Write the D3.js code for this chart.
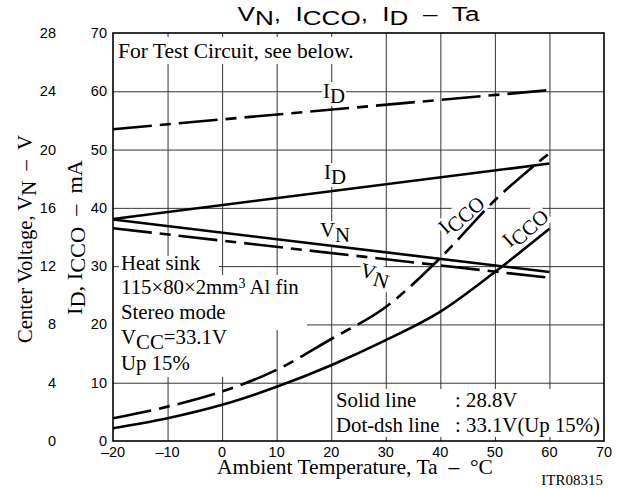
<!DOCTYPE html>
<html><head><meta charset="utf-8">
<script src="https://cdn.jsdelivr.net/npm/d3@7"></script>
<style>
html,body{margin:0;padding:0;background:#fff;}
svg{display:block;}
.sans{font-family:"Liberation Sans",Arial,Helvetica,sans-serif;}
.serif{font-family:"Liberation Serif","Times New Roman",serif;}
text{white-space:pre;}
</style></head>
<body>
<svg id="chart" width="620" height="488"></svg>
<script>
// ---- data ----
const xTicks = [-20,-10,0,10,20,30,40,50,60,70];
const iTicks = [0,10,20,30,40,50,60,70];
const vTicks = [0,4,8,12,16,20,24,28];
const lineTemps = [-20, 60];
const idSolid = [38.1, 47.6];
const idDash = [53.5, 60.2];
const vnSolid = [15.2, 11.6];
const vnDash = [14.6, 11.2];
const curveTemps = [-20,-10,0,10,20,30,40,50,60];
const iccoSolid = [2.2, 3.9, 6.2, 9.3, 13.0, 17.3, 22.2, 29.0, 36.4];
const iccoDash = [3.9, 5.9, 8.5, 12.2, 17.5, 23.0, 31.4, 41.3, 49.4];

// ---- scales ----
const L = 113, R = 604, T = 33, B = 441;
const x = d3.scaleLinear().domain([-20,70]).range([L,R]);
const yI = d3.scaleLinear().domain([0,70]).range([B,T]);
const yV = d3.scaleLinear().domain([0,28]).range([B,T]);

const svg = d3.select("#chart");
const DASH = "39,8,11,8";
const SF = 20.8; // serif font size
const SP = "\u00a0\u00a0";

function rich(sel, parts, subSize, drop){
  let prevSub = false;
  parts.forEach(([t, sub]) => {
    const ts = sel.append("tspan").text(t);
    if (sub && !prevSub) ts.attr("dy", drop).attr("font-size", subSize);
    else if (!sub && prevSub) ts.attr("dy", -drop);
    else if (sub) ts.attr("font-size", subSize);
    prevSub = sub;
  });
  return sel;
}
function fit(sel, base, target){
  const w = sel.node().getBBox().width;
  sel.attr("transform", base + ` scale(${target / w},1)`);
}

// ---- grid ----
const grid = svg.append("g").attr("stroke","#333").attr("stroke-width",1);
grid.selectAll("line.v").data(xTicks.filter(d => d > -20 && d < 70)).join("line")
  .attr("x1", d => x(d)+0.5).attr("x2", d => x(d)+0.5).attr("y1", T).attr("y2", B);
grid.selectAll("line.h").data(iTicks.filter(d => d > 0 && d < 70)).join("line")
  .attr("x1", L).attr("x2", R).attr("y1", d => yI(d)+0.5).attr("y2", d => yI(d)+0.5);

// ---- white masks behind text blocks ----
const masks = svg.append("g").attr("fill","#fff");
masks.append("rect").attr("x", L+2).attr("y", 37).attr("width", 240).attr("height", 27);
masks.append("rect").attr("x", L+6).attr("y", 256).attr("width", 100).attr("height", 20);
masks.append("rect").attr("x", L+1).attr("y", 275).attr("width", 193).attr("height", 55);
masks.append("rect").attr("x", L+1).attr("y", 329).attr("width", 126).attr("height", 48);
masks.append("rect").attr("x", x(20)+2).attr("y", 389).attr("width", R - x(20) - 3).attr("height", 48);

const labelMaskG = svg.append("g");

// ---- curves ----
const lineGen = (ys, sc) => d3.line().x((d,i) => x(lineTemps[i])).y(d => sc(d))(ys);
const curveGen = d3.line().x((d,i) => x(curveTemps[i])).y(d => yI(d)).curve(d3.curveMonotoneX);
const curves = svg.append("g").attr("fill","none").attr("stroke","#000").attr("stroke-width",2.6);
curves.append("path").attr("d", lineGen(idSolid, yI));
curves.append("path").attr("d", lineGen(idDash, yI)).attr("stroke-dasharray", DASH);
curves.append("path").attr("d", lineGen(vnSolid, yV));
curves.append("path").attr("d", lineGen(vnDash, yV)).attr("stroke-dasharray", DASH);
curves.append("path").attr("d", curveGen(iccoSolid));
curves.append("path").attr("d", curveGen(iccoDash)).attr("stroke-dasharray", DASH);

// ---- frame ----
svg.append("rect").attr("x", L).attr("y", T).attr("width", R-L).attr("height", B-T)
  .attr("fill","none").attr("stroke","#000").attr("stroke-width",1.6);

// ---- tick labels ----
const tl = svg.append("g").attr("class","sans").attr("font-size",14.5).attr("fill","#000");
tl.selectAll("text.x").data(xTicks).join("text")
  .attr("x", d => x(d)).attr("y", 457).attr("text-anchor","middle")
  .text(d => d < 0 ? "\u2013" + Math.abs(d) : d);
tl.selectAll("text.i").data(iTicks).join("text")
  .attr("x", 107).attr("y", d => yI(d)+5).attr("text-anchor","end").text(d => d);
tl.selectAll("text.v").data(vTicks).join("text")
  .attr("x", 56).attr("y", d => yV(d)+5).attr("text-anchor","end").text(d => d);

// ---- title ----
const title = rich(svg.append("text").attr("class","sans").attr("font-size",20).attr("x",0).attr("y",0)
  .attr("text-anchor","middle"),
  [["V",false],["N",true],[","+SP+"I",false],["CCO",true],[","+SP+"I",false],["D",true],[SP+"\u2013"+SP+"Ta",false]], 20, 4);
fit(title, "translate(358.5,21)", 243);

// ---- axis titles ----
const serif = svg.append("g").attr("class","serif").attr("fill","#000");
const xt = serif.append("text").attr("font-size",SF).attr("text-anchor","middle")
  .text("Ambient Temperature, Ta" + SP + "\u2013" + SP + "\u00b0C");
fit(xt, "translate(355,474)", 276);
serif.append("text").attr("font-size",15).attr("x",603).attr("y",485).attr("text-anchor","end").text("ITR08315");
const yt1 = rich(serif.append("text").attr("font-size",SF).attr("text-anchor","middle"),
  [["Center Voltage, V",false],["N",true],[SP+"\u2013"+SP+"V",false]], SF, 4);
fit(yt1, "translate(32,239) rotate(-90)", 208);
const yt2 = rich(serif.append("text").attr("font-size",SF).attr("text-anchor","middle"),
  [["I",false],["D",true],[", I",false],["CCO",true],[SP+"\u2013"+SP+"mA",false]], SF, 3);
fit(yt2, "translate(82,237.5) rotate(-90)", 155);

// ---- annotations ----
serif.append("text").attr("font-size",21.5).attr("x",118).attr("y",58).text("For Test Circuit, see below.");
const blk = serif.append("g").attr("font-size",SF);
blk.append("text").attr("x",121).attr("y",270).text("Heat sink");
const fin = blk.append("text").attr("x",121).attr("y",294);
fin.append("tspan").text("115\u00d780\u00d72mm");
fin.append("tspan").text("3").attr("font-size",14).attr("dy",-6);
fin.append("tspan").text(" Al fin").attr("dy",6);
blk.append("text").attr("x",121).attr("y",319).text("Stereo mode");
rich(blk.append("text").attr("x",121).attr("y",344), [["V",false],["CC",true],["=33.1V",false]], SF, 5);
blk.append("text").attr("x",121).attr("y",370).text("Up 15%");

const lg = serif.append("g").attr("font-size",SF);
lg.append("text").attr("x",336).attr("y",407).text("Solid line");
lg.append("text").attr("x",455).attr("y",407).text(": 28.8V");
lg.append("text").attr("x",336).attr("y",432).text("Dot-dsh line");
lg.append("text").attr("x",455).attr("y",432).text(": 33.1V(Up 15%)");

// ---- curve labels with white background (background placed under the curves) ----
function curveLabel(tx, ty, rot, parts){
  const tr = `translate(${tx},${ty}) rotate(${rot})`;
  const t = rich(svg.append("text").attr("class","serif").attr("font-size",SF).attr("transform", tr), parts, SF, 5);
  const bb = t.node().getBBox();
  labelMaskG.append("rect").attr("transform", tr).attr("fill","#fff")
    .attr("x", bb.x-1).attr("y", bb.y+3).attr("width", bb.width+2).attr("height", bb.height-4);
}
const labelDefs = [
  [323, 98, 0, [["I",false],["D",true]]],
  [324, 179, 0, [["I",false],["D",true]]],
  [320, 237, 0, [["V",false],["N",true]]],
  [359, 276, 16, [["V",false],["N",true]]],
  [446, 235, -42, [["I",false],["CCO",true]]],
  [510, 248, -42, [["I",false],["CCO",true]]]
];
labelDefs.forEach(d => curveLabel(...d));
</script>
</body></html>
